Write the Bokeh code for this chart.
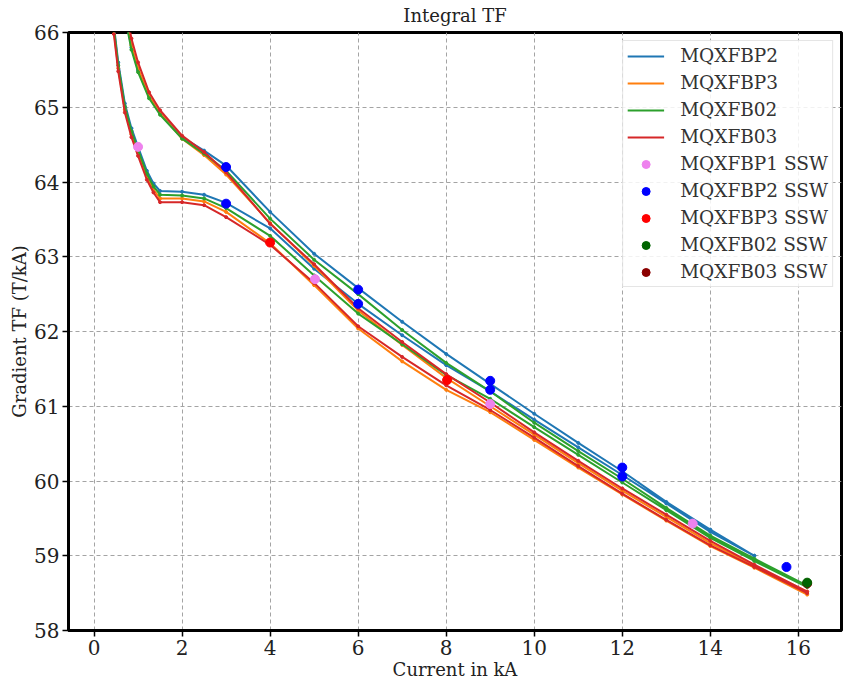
from bokeh.plotting import figure
from bokeh.models import FixedTicker, Legend, LegendItem, Range1d
from bokeh.embed import file_html
from bokeh.resources import INLINE

# ---------------- data ----------------
x_ticks = [0, 2, 4, 6, 8, 10, 12, 14, 16]
y_ticks = [58, 59, 60, 61, 62, 63, 64, 65, 66]

I_rise = [0.45, 0.55, 0.7, 0.85, 1.0, 1.2, 1.35, 1.5, 2.0, 2.5, 3, 4, 5, 6, 7, 8, 9, 10, 11, 12, 13, 14, 15, 16.2]
I_fall = [16.2, 15, 14, 13, 12, 11, 10, 9, 8, 7, 6, 5, 4, 3, 2.5, 2.0, 1.5, 1.25, 1.0, 0.85, 0.75]

# MQXFBP2 (measured up to 15 kA)
bp2_rise = [66.1, 65.6, 65.05, 64.72, 64.47, 64.15, 63.98, 63.88, 63.87, 63.83, 63.72, 63.38, 62.84, 62.37,
            61.95, 61.55, 61.2, 60.82, 60.45, 60.08, 59.7, 59.32, 59.0]
bp2_fall = [59.0, 59.35, 59.72, 60.13, 60.51, 60.9, 61.3, 61.7, 62.13, 62.58, 63.04, 63.6, 64.22, 64.42,
            64.6, 64.92, 65.15, 65.5, 65.8, 66.1]
# MQXFBP3
bp3_rise = [66.02, 65.52, 64.97, 64.64, 64.39, 64.07, 63.9, 63.78, 63.78, 63.74, 63.6, 63.18, 62.62, 62.04,
            61.6, 61.22, 60.92, 60.55, 60.18, 59.82, 59.47, 59.13, 58.84, 58.48]
bp3_fall = [58.52, 58.87, 59.17, 59.52, 59.87, 60.24, 60.62, 61.0, 61.38, 61.82, 62.28, 62.88, 63.45, 64.1,
            64.36, 64.58, 64.92, 65.15, 65.52, 65.83, 66.13]
# MQXFB02
b02_rise = [66.06, 65.56, 65.01, 64.68, 64.43, 64.11, 63.94, 63.83, 63.82, 63.78, 63.65, 63.28, 62.75, 62.24,
            61.83, 61.42, 61.1, 60.72, 60.35, 59.98, 59.61, 59.24, 58.93, 58.58]
b02_fall = [58.6, 58.96, 59.27, 59.64, 60.03, 60.4, 60.78, 61.2, 61.58, 62.02, 62.5, 62.96, 63.51, 64.15,
            64.38, 64.58, 64.9, 65.12, 65.47, 65.77, 66.07]
# MQXFB03
b03_rise = [65.98, 65.48, 64.93, 64.6, 64.35, 64.03, 63.86, 63.73, 63.73, 63.69, 63.53, 63.16, 62.65, 62.07,
            61.66, 61.28, 60.95, 60.58, 60.2, 59.83, 59.48, 59.14, 58.85, 58.5]
b03_fall = [58.52, 58.88, 59.2, 59.55, 59.9, 60.27, 60.65, 61.05, 61.43, 61.86, 62.31, 62.9, 63.44, 64.13,
            64.4, 64.62, 64.96, 65.2, 65.6, 65.92, 66.22]

# single stair-step (SSW) measurements
ssw_bp1_I = [1.0, 5.02, 9.0, 13.6]
ssw_bp1_tf = [64.47, 62.7, 61.03, 59.43]
ssw_bp2_I = [3.0, 3.0, 6.0, 6.0, 9.0, 9.0, 12.0, 12.0, 15.73]
ssw_bp2_tf = [64.2, 63.71, 62.56, 62.37, 61.34, 61.22, 60.18, 60.06, 58.85]
ssw_bp3_I = [4.0, 8.02]
ssw_bp3_tf = [63.19, 61.35]
ssw_b02_I = [16.2]
ssw_b02_tf = [58.64]
ssw_b03_I = [16.2]
ssw_b03_tf = [58.63]

line_names = ["MQXFBP2", "MQXFBP3", "MQXFB02", "MQXFB03"]
ssw_names = ["MQXFBP1 SSW", "MQXFBP2 SSW", "MQXFBP3 SSW", "MQXFB02 SSW", "MQXFB03 SSW"]

# ---------------- figure ----------------
FONT = "DejaVu Serif"
p = figure(width=846, height=685, output_backend="svg", toolbar_location=None,
           x_range=Range1d(-0.58, 16.98), y_range=Range1d(58, 66),
           min_border_left=68, min_border_right=5, min_border_top=32, min_border_bottom=55,
           title="Integral TF")
p.title.align = "center"
p.title.vertical_align = "top"
p.title.text_font = FONT
p.title.text_font_size = "18px"
p.title.text_font_style = "normal"
p.title.text_color = "#222222"
p.title.standoff = 9
p.title.offset = 0

p.background_fill_color = "white"
p.border_fill_color = "white"
p.outline_line_color = "black"
p.outline_line_width = 3

p.xaxis.ticker = FixedTicker(ticks=x_ticks)
p.yaxis.ticker = FixedTicker(ticks=y_ticks)
for ax in (p.xaxis, p.yaxis):
    ax.axis_line_color = "black"
    ax.axis_line_width = 3
    ax.major_tick_line_color = "black"
    ax.major_tick_line_width = 1.5
    ax.major_tick_out = 6
    ax.major_tick_in = 0
    ax.minor_tick_line_color = None
    ax.major_label_text_font = FONT
    ax.major_label_text_font_size = "20px"
    ax.major_label_text_color = "#222222"
    ax.axis_label_text_font = FONT
    ax.axis_label_text_font_size = "18px"
    ax.axis_label_text_font_style = "normal"
    ax.axis_label_text_color = "#222222"
    ax.major_label_standoff = 3
    ax.axis_label_standoff = 1
p.xaxis.axis_label = "Current in kA"
p.yaxis.axis_label = "Gradient TF (T/kA)"

for g in (p.xgrid, p.ygrid):
    g.grid_line_color = "#9a9a9a"
    g.grid_line_dash = "4 3"
    g.grid_line_width = 1
    g.grid_line_alpha = 0.9

colors = ["#1f77b4", "#ff7f0e", "#2ca02c", "#d62728"]
series = [
    (I_rise[:-1] + I_fall[1:], bp2_rise + bp2_fall),
    (I_rise + I_fall, bp3_rise + bp3_fall),
    (I_rise + I_fall, b02_rise + b02_fall),
    (I_rise + I_fall, b03_rise + b03_fall),
]
items = []
for name, col, (xs, ys) in zip(line_names, colors, series):
    r = p.line(xs, ys, line_color=col, line_width=2)
    p.scatter(xs, ys, size=3, fill_color=col, line_color=col, marker="circle")
    items.append(LegendItem(label=name, renderers=[r]))

ssw = [
    (ssw_bp1_I, ssw_bp1_tf, "violet", "MQXFBP1 SSW"),
    (ssw_bp2_I, ssw_bp2_tf, "blue", "MQXFBP2 SSW"),
    (ssw_bp3_I, ssw_bp3_tf, "red", "MQXFBP3 SSW"),
    (ssw_b03_I, ssw_b03_tf, "darkred", "MQXFB03 SSW"),
    (ssw_b02_I, ssw_b02_tf, "darkgreen", "MQXFB02 SSW"),
]
ssw_r = {}
for xs, ys, col, nm in ssw:
    ssw_r[nm] = p.scatter(xs, ys, size=9, fill_color=col, line_color=col, marker="circle")
for nm in ssw_names:
    items.append(LegendItem(label=nm, renderers=[ssw_r[nm]]))

legend = Legend(items=items, location="top_right")
legend.label_text_font = FONT
legend.label_text_font_size = "18.5px"
legend.label_text_color = "#333333"
legend.glyph_width = 37
legend.glyph_height = 20
legend.label_height = 20
legend.label_standoff = 16
legend.spacing = 6
legend.padding = 4
legend.margin = 8
legend.border_line_color = "#cccccc"
legend.border_line_width = 1
legend.background_fill_alpha = 0.85
p.add_layout(legend)

open("out.html", "w").write(file_html(p, INLINE))
